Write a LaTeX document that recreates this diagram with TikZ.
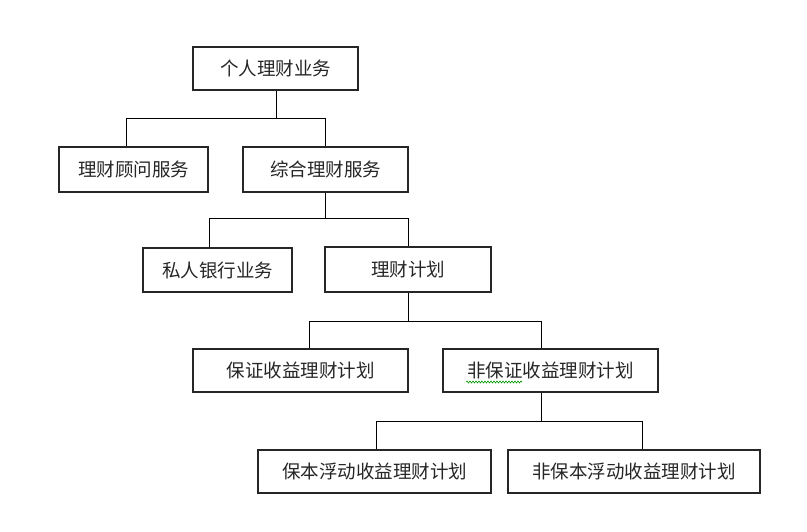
\documentclass[tikz,border=0pt]{standalone}
\usepackage{fontspec}
\newfontfamily\cjk{Noto Sans CJK SC}
\usetikzlibrary{decorations.pathmorphing}
\tikzset{
  box/.style={draw=black!85, line width=1.3pt, rectangle, inner sep=0pt,
    font=\cjk\fontsize{18.5}{18.5}\selectfont, text=black!85},
  link/.style={draw=black, line width=1pt},
}
\begin{document}
\begin{tikzpicture}[x=1pt,y=-1pt]
\useasboundingbox[fill=white] (0,0) rectangle (807,532);
% boxes
\node[box, minimum width=165pt, minimum height=43pt] (b1) at (275.5,68.5) {个人理财业务};
\node[box, minimum width=149pt, minimum height=45pt] (b2) at (133.5,169.5) {理财顾问服务};
\node[box, minimum width=165pt, minimum height=45pt] (b3) at (325.5,169.5) {综合理财服务};
\node[box, minimum width=149pt, minimum height=44pt] (b4) at (217.5,270) {私人银行业务};
\node[box, minimum width=166pt, minimum height=45pt] (b5) at (408,269.5) {理财计划};
\node[box, minimum width=215pt, minimum height=43pt] (b6) at (300.5,370.5) {保证收益理财计划};
\node[box, minimum width=215pt, minimum height=43pt] (b7) at (550.5,370.5) {非保证收益理财计划};
\node[box, minimum width=233pt, minimum height=43pt] (b8) at (374.5,471.5) {保本浮动收益理财计划};
\node[box, minimum width=252pt, minimum height=43pt] (b9) at (634,471.5) {非保本浮动收益理财计划};
% level 1
\coordinate (t1) at (276,119);
\coordinate (l1) at (126,119);
\coordinate (r1) at (325,119);
\draw[link] (t1 |- b1.south) -- (t1);
\draw[link] (l1 |- b2.north) -- (l1) -- (r1) -- (r1 |- b3.north);
% level 2
\coordinate (t2) at (325,219);
\coordinate (l2) at (209,219);
\coordinate (r2) at (408,219);
\draw[link] (t2 |- b3.south) -- (t2);
\draw[link] (l2 |- b4.north) -- (l2) -- (r2) -- (r2 |- b5.north);
% level 3
\coordinate (t3) at (408,321);
\coordinate (l3) at (309,321);
\coordinate (r3) at (541,321);
\draw[link] (t3 |- b5.south) -- (t3);
\draw[link] (l3 |- b6.north) -- (l3) -- (r3) -- (r3 |- b7.north);
% level 4
\coordinate (t4) at (541,421);
\coordinate (l4) at (376,421);
\coordinate (r4) at (642,421);
\draw[link] (t4 |- b7.south) -- (t4);
\draw[link] (l4 |- b8.north) -- (l4) -- (r4) -- (r4 |- b9.north);
% spell-check squiggle
\coordinate (s1) at (466,382);
\coordinate (s2) at (522,382);
\draw[green!60!black, line width=0.6pt, decorate, decoration={snake, amplitude=1pt, segment length=3pt}] (s1) -- (s2);
\end{tikzpicture}
\end{document}
